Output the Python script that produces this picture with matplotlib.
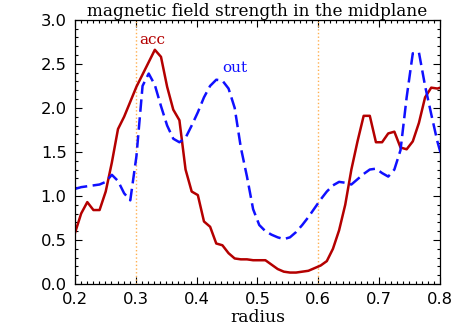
import numpy
from matplotlib import pyplot as plt
from matplotlib.ticker import MultipleLocator

# radius grid (61 samples, spacing)
radius = 0.2 + 0.0101 * numpy.arange(61)

acc = [0.58, 0.80, 0.93, 0.84, 0.84, 1.05, 1.38, 1.76, 1.90, 2.07,
       2.24, 2.38, 2.52, 2.66, 2.58, 2.24, 1.98, 1.86, 1.30, 1.05,
       1.01, 0.71, 0.65, 0.46, 0.44, 0.35, 0.29, 0.28, 0.28, 0.27,
       0.27, 0.27, 0.22, 0.17, 0.14, 0.13, 0.13, 0.14, 0.15, 0.18,
       0.21, 0.26, 0.40, 0.61, 0.90, 1.30, 1.62, 1.91, 1.91, 1.61,
       1.61, 1.71, 1.73, 1.55, 1.53, 1.62, 1.83, 2.12, 2.23, 2.22,
       2.24]

out = [1.08, 1.10, 1.11, 1.12, 1.13, 1.16, 1.24, 1.17, 1.03, 0.95,
       1.45, 2.25, 2.39, 2.26, 2.02, 1.80, 1.65, 1.61, 1.66, 1.80,
       1.95, 2.12, 2.25, 2.32, 2.31, 2.22, 2.00, 1.55, 1.22, 0.85,
       0.67, 0.60, 0.56, 0.53, 0.51, 0.53, 0.59, 0.67, 0.76, 0.86,
       0.96, 1.05, 1.12, 1.16, 1.15, 1.13, 1.19, 1.25, 1.30, 1.31,
       1.26, 1.22, 1.30, 1.52, 2.12, 2.62, 2.63, 2.25, 1.93, 1.62,
       1.37]

marks = [0.3, 0.6]

SERIF = ['DejaVu Serif']

fig = plt.figure(dpi=100, figsize=(4.63, 3.31))
ax = fig.add_axes([0.162, 0.142, 0.788, 0.798])

for m in marks:
    ax.axvline(m, color='#ffb050', linestyle=':', linewidth=1.0)

ax.plot(radius, acc, color='#b40000', linewidth=1.8)
ax.plot(radius, out, color='#1010ff', linewidth=1.8, dashes=(5.0, 2.2))

ax.text(0.327, 2.77, 'acc', color='#b40000', ha='center', va='center',
        family=SERIF, fontsize=11)
ax.text(0.462, 2.45, 'out', color='#1010ff', ha='center', va='center',
        family=SERIF, fontsize=11)

ax.set_xlim(0.2, 0.8)
ax.set_ylim(0, 3.0)
ax.xaxis.set_major_locator(MultipleLocator(0.1))
ax.xaxis.set_minor_locator(MultipleLocator(0.01))
ax.yaxis.set_major_locator(MultipleLocator(0.5))
ax.yaxis.set_minor_locator(MultipleLocator(0.1))
ax.xaxis.set_major_formatter(lambda v, p: f'{v:.1f}')
ax.yaxis.set_major_formatter(lambda v, p: f'{v:.1f}')
ax.tick_params(which='both', direction='in', top=True, right=True, width=0.8)
ax.tick_params(which='major', length=5, pad=6, labelsize=11.8, labelfontfamily='DejaVu Sans')
ax.tick_params(which='minor', length=2.5)
for s in ax.spines.values():
    s.set_linewidth(0.9)

ax.set_xlabel('radius', labelpad=1, family=SERIF, fontsize=12.3)
ax.set_title('magnetic field strength in the midplane', pad=3,
             family=SERIF, fontsize=12.2)

fig.savefig('out.png')
